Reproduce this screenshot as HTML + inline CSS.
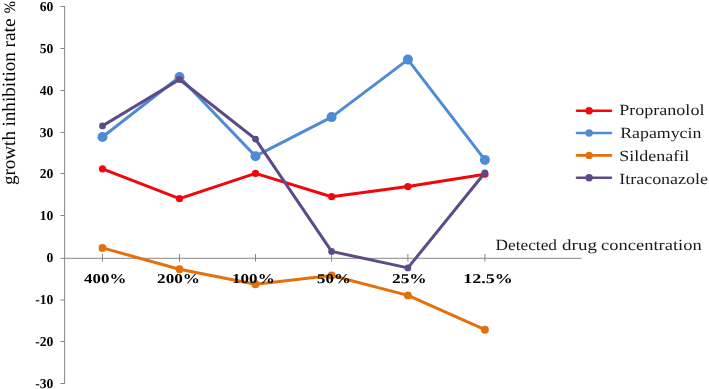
<!DOCTYPE html><html><head><meta charset="utf-8"><style>html,body{margin:0;padding:0;background:#fff;overflow:hidden;width:709px;height:389px;}svg{display:block;will-change:transform;}text{font-family:"Liberation Serif",serif;text-rendering:geometricPrecision;}</style></head><body>
<svg width="709" height="389" viewBox="0 0 709 389">
<rect width="709" height="389" fill="#fff"/>
<g stroke="#878787" stroke-width="1" fill="none">
<line x1="64.6" y1="6" x2="64.6" y2="384"/>
<line x1="60.5" y1="6.5" x2="64.6" y2="6.5"/>
<line x1="60.5" y1="48.5" x2="64.6" y2="48.5"/>
<line x1="60.5" y1="90.5" x2="64.6" y2="90.5"/>
<line x1="60.5" y1="132.5" x2="64.6" y2="132.5"/>
<line x1="60.5" y1="173.5" x2="64.6" y2="173.5"/>
<line x1="60.5" y1="215.5" x2="64.6" y2="215.5"/>
<line x1="60.5" y1="258.3" x2="64.6" y2="258.3"/>
<line x1="60.5" y1="300.0" x2="64.6" y2="300.0"/>
<line x1="60.5" y1="341.5" x2="64.6" y2="341.5"/>
<line x1="60.5" y1="383.5" x2="64.6" y2="383.5"/>
<line x1="64.6" y1="258.3" x2="581.5" y2="258.3"/>
<line x1="102.5" y1="254" x2="102.5" y2="261.6"/>
<line x1="179.5" y1="254" x2="179.5" y2="261.6"/>
<line x1="255.5" y1="254" x2="255.5" y2="261.6"/>
<line x1="331.6" y1="254" x2="331.6" y2="261.6"/>
<line x1="407.9" y1="254" x2="407.9" y2="261.6"/>
<line x1="484.9" y1="254" x2="484.9" y2="261.6"/>
</g>
<text x="53.4" y="10.5" text-anchor="end" font-size="13.6" font-weight="bold" fill="#000">60</text>
<text x="53.4" y="52.5" text-anchor="end" font-size="13.6" font-weight="bold" fill="#000">50</text>
<text x="53.4" y="94.5" text-anchor="end" font-size="13.6" font-weight="bold" fill="#000">40</text>
<text x="53.4" y="136.5" text-anchor="end" font-size="13.6" font-weight="bold" fill="#000">30</text>
<text x="53.4" y="177.5" text-anchor="end" font-size="13.6" font-weight="bold" fill="#000">20</text>
<text x="53.4" y="219.5" text-anchor="end" font-size="13.6" font-weight="bold" fill="#000">10</text>
<text x="53.4" y="262.3" text-anchor="end" font-size="13.6" font-weight="bold" fill="#000">0</text>
<text x="53.4" y="304.0" text-anchor="end" font-size="13.6" font-weight="bold" fill="#000">-10</text>
<text x="53.4" y="345.5" text-anchor="end" font-size="13.6" font-weight="bold" fill="#000">-20</text>
<text x="53.4" y="387.5" text-anchor="end" font-size="13.6" font-weight="bold" fill="#000">-30</text>
<text transform="translate(15,185.03) rotate(-90)" x="0" y="0" font-size="18.67" fill="#000" textLength="53.96" lengthAdjust="spacingAndGlyphs">growth</text>
<text transform="translate(15,126.51) rotate(-90)" x="0" y="0" font-size="18.67" fill="#000" textLength="74.43" lengthAdjust="spacingAndGlyphs">inhibition</text>
<text transform="translate(15,47.56) rotate(-90)" x="0" y="0" font-size="18.67" fill="#000" textLength="29.07" lengthAdjust="spacingAndGlyphs">rate</text>
<text transform="translate(15,13.21) rotate(-90)" x="0" y="0" font-size="16" fill="#000" textLength="12.13" lengthAdjust="spacingAndGlyphs">%</text>
<polyline points="102.5,168.8 179.5,198.7 255.5,173.4 331.6,196.7 407.9,186.6 484.9,174.2" fill="none" stroke="#F2060C" stroke-width="3" stroke-linejoin="round" stroke-linecap="round"/>
<circle cx="102.5" cy="168.8" r="3.6" fill="#F2060C"/>
<circle cx="179.5" cy="198.7" r="3.6" fill="#F2060C"/>
<circle cx="255.5" cy="173.4" r="3.6" fill="#F2060C"/>
<circle cx="331.6" cy="196.7" r="3.6" fill="#F2060C"/>
<circle cx="407.9" cy="186.6" r="3.6" fill="#F2060C"/>
<circle cx="484.9" cy="174.2" r="3.6" fill="#F2060C"/>
<polyline points="102.5,137.0 179.5,77.0 255.5,156.2 331.6,117.1 407.9,59.6 484.9,159.9" fill="none" stroke="#4F8BD5" stroke-width="3" stroke-linejoin="round" stroke-linecap="round"/>
<circle cx="102.5" cy="137.0" r="5.0" fill="#4F8BD5"/>
<circle cx="179.5" cy="77.0" r="5.0" fill="#4F8BD5"/>
<circle cx="255.5" cy="156.2" r="5.0" fill="#4F8BD5"/>
<circle cx="331.6" cy="117.1" r="5.0" fill="#4F8BD5"/>
<circle cx="407.9" cy="59.6" r="5.0" fill="#4F8BD5"/>
<circle cx="484.9" cy="159.9" r="5.0" fill="#4F8BD5"/>
<polyline points="102.5,247.9 179.5,269.3 255.5,284.2 331.6,275.5 407.9,295.4 484.9,329.7" fill="none" stroke="#E4700D" stroke-width="3" stroke-linejoin="round" stroke-linecap="round"/>
<circle cx="102.5" cy="247.9" r="3.95" fill="#E4700D"/>
<circle cx="179.5" cy="269.3" r="3.95" fill="#E4700D"/>
<circle cx="255.5" cy="284.2" r="3.95" fill="#E4700D"/>
<circle cx="331.6" cy="275.5" r="3.95" fill="#E4700D"/>
<circle cx="407.9" cy="295.4" r="3.95" fill="#E4700D"/>
<circle cx="484.9" cy="329.7" r="3.95" fill="#E4700D"/>
<polyline points="102.5,125.9 179.5,79.5 255.5,139.1 331.6,251.4 407.9,267.9 484.9,172.8" fill="none" stroke="#5D4A88" stroke-width="3" stroke-linejoin="round" stroke-linecap="round"/>
<circle cx="102.5" cy="125.9" r="3.4" fill="#5D4A88"/>
<circle cx="179.5" cy="79.5" r="3.4" fill="#5D4A88"/>
<circle cx="255.5" cy="139.1" r="3.4" fill="#5D4A88"/>
<circle cx="331.6" cy="251.4" r="3.4" fill="#5D4A88"/>
<circle cx="407.9" cy="267.9" r="3.4" fill="#5D4A88"/>
<circle cx="484.9" cy="172.8" r="3.4" fill="#5D4A88"/>
<line x1="577" y1="110.8" x2="611" y2="110.8" stroke="#F2060C" stroke-width="2.6" stroke-linecap="round"/>
<circle cx="589.1" cy="110.8" r="3.7" fill="#F2060C"/>
<line x1="577" y1="133.0" x2="611" y2="133.0" stroke="#4F8BD5" stroke-width="2.6" stroke-linecap="round"/>
<circle cx="589.1" cy="133.0" r="3.7" fill="#4F8BD5"/>
<line x1="577" y1="155.4" x2="611" y2="155.4" stroke="#E4700D" stroke-width="2.6" stroke-linecap="round"/>
<circle cx="589.1" cy="155.4" r="3.7" fill="#E4700D"/>
<line x1="577" y1="177.7" x2="611" y2="177.7" stroke="#5D4A88" stroke-width="2.6" stroke-linecap="round"/>
<circle cx="589.1" cy="177.7" r="3.7" fill="#5D4A88"/>
<text x="84.08" y="283.00" font-size="13.5" font-weight="bold" fill="#000" textLength="42.20" lengthAdjust="spacingAndGlyphs">400%</text>
<text x="157.11" y="283.00" font-size="13.5" font-weight="bold" fill="#000" textLength="42.92" lengthAdjust="spacingAndGlyphs">200%</text>
<text x="232.10" y="283.00" font-size="13.5" font-weight="bold" fill="#000" textLength="42.58" lengthAdjust="spacingAndGlyphs">100%</text>
<text x="317.06" y="283.00" font-size="13.5" font-weight="bold" fill="#000" textLength="33.70" lengthAdjust="spacingAndGlyphs">50%</text>
<text x="392.04" y="283.00" font-size="13.5" font-weight="bold" fill="#000" textLength="34.67" lengthAdjust="spacingAndGlyphs">25%</text>
<text x="463.16" y="283.00" font-size="13.5" font-weight="bold" fill="#000" textLength="49.54" lengthAdjust="spacingAndGlyphs">12.5%</text>
<text x="495.46" y="249.60" font-size="15.5" fill="#1a1a1a" textLength="61.56" lengthAdjust="spacingAndGlyphs">Detected</text>
<text x="562.11" y="249.60" font-size="15.5" fill="#1a1a1a" textLength="34.87" lengthAdjust="spacingAndGlyphs">drug</text>
<text x="601.13" y="249.60" font-size="15.5" fill="#1a1a1a" textLength="100.52" lengthAdjust="spacingAndGlyphs">concentration</text>
<text x="619.26" y="115.00" font-size="15.5" fill="#1a1a1a" textLength="85.17" lengthAdjust="spacingAndGlyphs">Propranolol</text>
<text x="620.18" y="138.00" font-size="15.5" fill="#1a1a1a" textLength="81.20" lengthAdjust="spacingAndGlyphs">Rapamycin</text>
<text x="619.23" y="161.20" font-size="15.5" fill="#1a1a1a" textLength="69.92" lengthAdjust="spacingAndGlyphs">Sildenafil</text>
<text x="619.22" y="184.30" font-size="15.5" fill="#1a1a1a" textLength="88.80" lengthAdjust="spacingAndGlyphs">Itraconazole</text>
</svg></body></html>
